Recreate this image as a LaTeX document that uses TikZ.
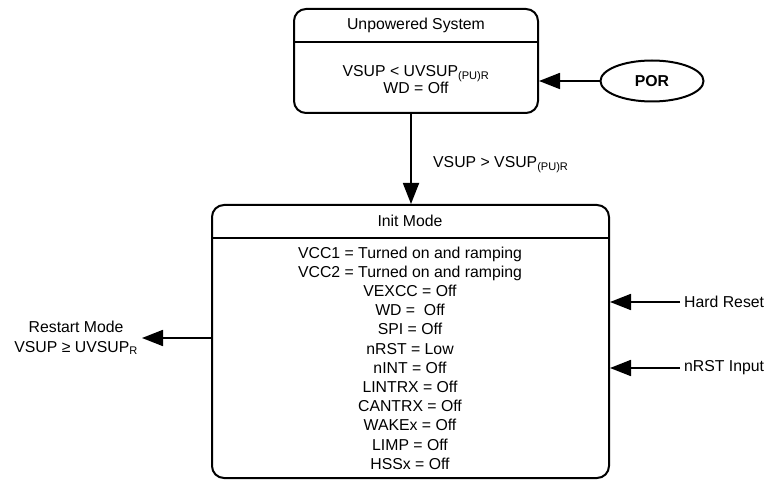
\documentclass[tikz,border=0pt]{standalone}
\usepackage{fontspec}
\setmainfont{Liberation Sans}
\usetikzlibrary{shapes.geometric,arrows.meta,positioning}

\begin{document}
\begin{tikzpicture}[
    x=1pt, y=-1pt,
    font=\fontsize{15.8}{19.2}\selectfont,
    statebox/.style={rectangle, draw, line width=2pt, rounded corners=12pt},
    header/.style={line width=2pt},
    txt/.style={inner sep=0pt, align=center},
    body/.style={inner sep=0pt, align=center, font=\fontsize{15.8}{19.2}\selectfont},
    side/.style={inner sep=4pt, align=center},
    arrow/.style={-{Triangle[length=21pt,width=16pt]}, line width=1.8pt},
]
    \useasboundingbox (0,0) rectangle (766,481);

    % unpowered state
    \node[statebox, minimum width=244pt, minimum height=104pt] (unp) at (416,61) {};
    \draw[header] (unp.west |- 0,42) -- (unp.east |- 0,42);
    \node[txt] (unptitle) at (416,25) {Unpowered System};
    \node[body, font=\fontsize{15.8}{17}\selectfont] (unpbody) at (416,80) {VSUP < UVSUP\textsubscript{(PU)R}\\WD = Off};

    \node[ellipse, draw, line width=2pt, minimum width=103pt, minimum height=41pt,
          font=\fontsize{15.8}{19}\selectfont\bfseries] (por) at (652,81) {POR};

    % init mode
    \node[statebox, minimum width=397pt, minimum height=273pt] (init) at (410.5,341.5) {};
    \draw[header] (init.west |- 0,238) -- (init.east |- 0,238);
    \node[txt] (inittitle) at (410,221) {Init Mode};
    \node[body] (initbody) at (410,358) {VCC1 = Turned on and ramping\\
        VCC2 = Turned on and ramping\\
        VEXCC = Off\\
        WD = \ Off\\
        SPI = Off\\
        nRST = Low\\
        nINT = Off\\
        LINTRX = Off\\
        CANTRX = Off\\
        WAKEx = Off\\
        LIMP = Off\\
        HSSx = Off};

    % side labels
    \node[side, anchor=east] (restart) at (142,338) {Restart Mode\\VSUP ≥ UVSUP\textsubscript{R}};
    \node[side, anchor=west] (hard) at (680,302) {Hard Reset};
    \node[side, anchor=west] (nrst) at (680,368) {nRST Input};
    \node[txt, anchor=west] (vsup) at (433,165) {VSUP > VSUP\textsubscript{(PU)R}};

    \draw[arrow] (por) -- (unp.east |- por);
    \draw[arrow] (unp.south -| 411,0) -- (init.north -| 411,0);
    \draw[arrow] (init.west |- restart) -- (restart.east);
    \draw[arrow] (hard.west) -- (init.east |- hard);
    \draw[arrow] (nrst.west) -- (init.east |- nrst);
\end{tikzpicture}
\end{document}
